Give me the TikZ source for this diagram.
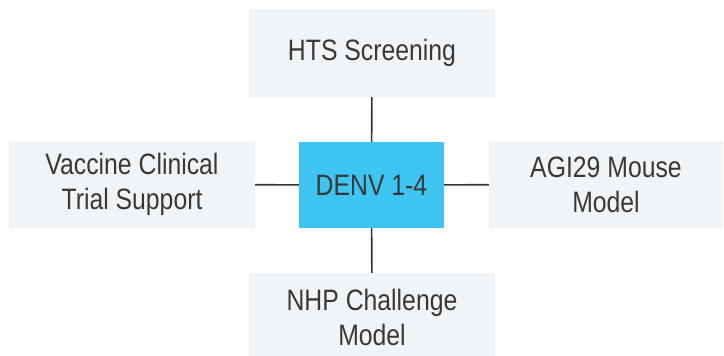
\documentclass[tikz,border=0pt]{standalone}
\usepackage{fontspec}
\setmainfont{Liberation Sans}[FakeStretch=0.84]
\usepackage{tikz}
\usetikzlibrary{positioning}
\definecolor{boxgrey}{HTML}{F1F4F6}
\definecolor{denvblue}{HTML}{3EC4F0}
\definecolor{textgrey}{HTML}{383838}
\definecolor{linegrey}{HTML}{333333}
\begin{document}
\begin{tikzpicture}[x=1pt,y=-1pt,line join=bevel,
    topic/.style={rectangle,fill=boxgrey,align=center,text=textgrey,inner sep=0pt,
        font=\fontsize{29.5}{35}\selectfont,minimum height=87pt},
    virus/.style={rectangle,fill=denvblue,align=center,text=textgrey,inner sep=0pt,
        font=\fontsize{29.5}{35}\selectfont,minimum width=145pt,minimum height=86pt},
    link/.style={color=linegrey,line width=1.6pt}]
            %
            \useasboundingbox (0,0) rectangle (724,356);
            \node (denv) at (371.5,185) [virus] {DENV 1-4};
            \node (hts) at (372,53) [topic,minimum width=246pt,minimum height=88pt] {HTS Screening};
            \node (vaccine) at (132,184.5) [topic,minimum width=246pt] {Vaccine Clinical\\Trial Support};
            \node (mouse) at (606,184.5) [topic,minimum width=234pt] {AGI29 Mouse\\Model};
            \node (nhp) at (372,317) [topic,minimum width=246pt,minimum height=88pt] {NHP Challenge\\Model};
            %
            \draw [link] (denv) to (hts);
            \draw [link] (denv) to (vaccine);
            \draw [link] (denv) to (mouse);
            \draw [link] (denv) to (nhp);
            %
\end{tikzpicture}
\end{document}
